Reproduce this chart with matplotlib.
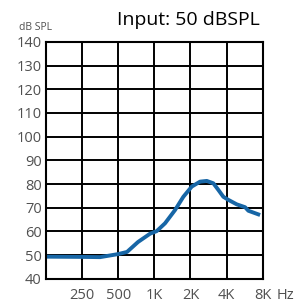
import numpy as np
import matplotlib.pyplot as plt

# response curve
freq_hz = [125, 250, 353, 500, 592, 731, 921, 1047, 1228, 1488, 1745, 2050,
           2405, 2736, 3105, 3417, 3760, 4140, 4866, 5707, 6080, 7612]
level_db = [49.3, 49.2, 49.1, 50.4, 51.3, 55.5, 59.0, 60.1, 63.4, 69.0, 74.6, 78.9,
            81.0, 81.3, 80.3, 77.5, 74.6, 73.3, 71.4, 70.2, 68.7, 66.9]

x_ticks = [250, 500, 1000, 2000, 4000, 8000]
x_labels = ['250', '500', '1K', '2K', '4K', '8K']
y_ticks = list(range(40, 141, 10))

plt.rcParams['font.family'] = ['Open Sans', 'DejaVu Sans']

fig = plt.figure(figsize=(3.0, 3.02), dpi=100)
ax = fig.add_axes([0.1533, 0.0772, 0.7223, 0.7838])

ax.plot(freq_hz, level_db, color='#1766a6', linewidth=2.8, solid_capstyle='butt')

ax.set_xscale('log')
ax.set_xlim(125, 8000)
ax.set_ylim(40, 140)
ax.set_xticks(x_ticks)
ax.set_xticklabels(x_labels)
ax.xaxis.set_minor_locator(plt.NullLocator())
ax.set_yticks(y_ticks)

ax.grid(True, color='black', linewidth=1.4)
for s in ax.spines.values():
    s.set_linewidth(1.5)
ax.tick_params(length=0, labelsize=10.5, labelcolor='#505050')
ax.tick_params(axis='x', pad=7)
ax.tick_params(axis='y', pad=3)

# unit after the last frequency label
ax.annotate('Hz', xy=(1, 0), xycoords='axes fraction', xytext=(9.7, -7),
            textcoords='offset points', ha='left', va='top',
            fontsize=10.5, color='#505050')
fig.text(0.062, 0.908, 'dB SPL', fontsize=7.5, color='#505050', ha='left', va='center')
fig.text(0.867, 0.917, 'Input: 50 dBSPL', fontsize=14, color='black',
         ha='right', va='baseline')

fig.savefig('out.png', dpi=100)
